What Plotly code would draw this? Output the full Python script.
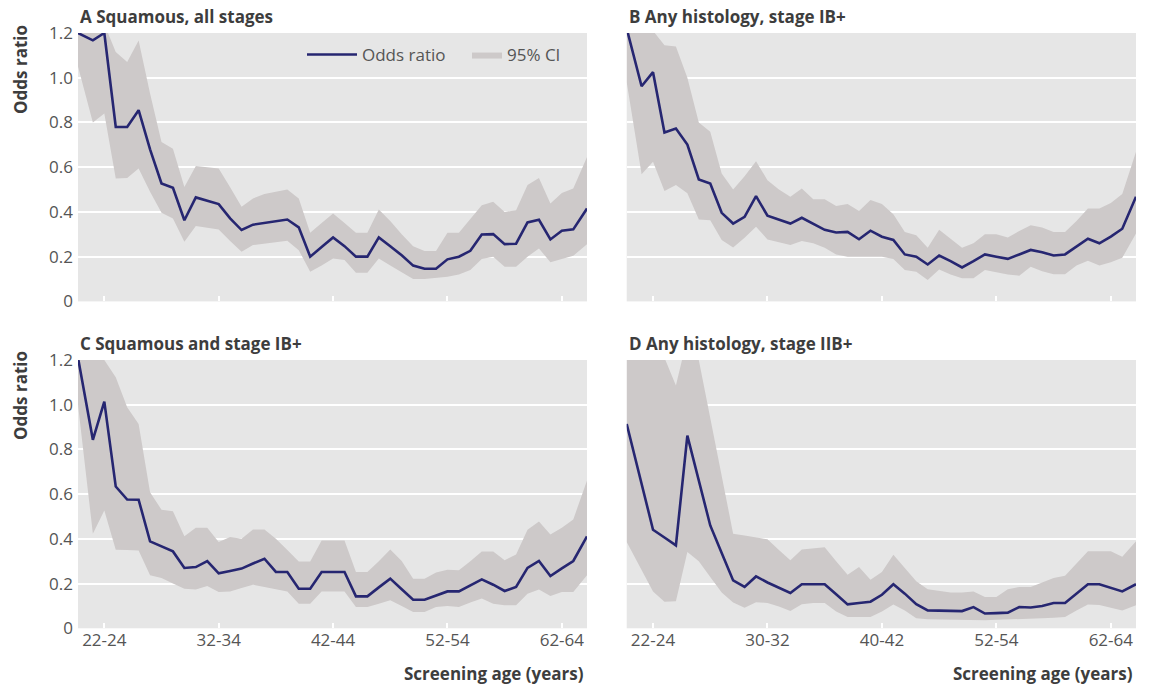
import plotly.graph_objects as go

# Screening age (mid-point of age band, years)
ages = [20.7] + list(range(22, 65)) + [65.2]

# Panel A: Squamous, all stages
a_or = [1.20, 1.167, 1.20, 0.78, 0.78, 0.855, 0.68, 0.527, 0.508, 0.363, 0.465, 0.45, 0.435, 0.371, 0.319,
        0.343, 0.35, 0.359, 0.366, 0.331, 0.20, 0.243, 0.286, 0.247, 0.20, 0.20, 0.286, 0.247, 0.206, 0.16,
        0.146, 0.146, 0.188, 0.20, 0.226, 0.299, 0.301, 0.256, 0.258, 0.353, 0.365, 0.277, 0.316, 0.322, 0.415]
a_hi = [1.40, 1.32, 1.24, 1.115, 1.07, 1.167, 0.93, 0.713, 0.683, 0.512, 0.605, 0.60, 0.594, 0.51, 0.423,
        0.46, 0.48, 0.49, 0.50, 0.46, 0.307, 0.35, 0.393, 0.35, 0.307, 0.307, 0.411, 0.36, 0.30, 0.247,
        0.225, 0.225, 0.307, 0.307, 0.37, 0.43, 0.445, 0.40, 0.408, 0.52, 0.552, 0.438, 0.485, 0.505, 0.646]
a_lo = [1.05, 0.80, 0.84, 0.55, 0.552, 0.594, 0.49, 0.396, 0.371, 0.267, 0.337, 0.33, 0.322, 0.27, 0.222,
        0.252, 0.258, 0.265, 0.271, 0.229, 0.133, 0.16, 0.192, 0.185, 0.128, 0.128, 0.192, 0.16, 0.13, 0.10,
        0.10, 0.104, 0.11, 0.12, 0.14, 0.19, 0.20, 0.155, 0.155, 0.20, 0.237, 0.175, 0.19, 0.204, 0.255]

# Panel B: Any histology, stage IB+
b_or = [1.22, 0.962, 1.025, 0.755, 0.773, 0.701, 0.545, 0.527, 0.396, 0.348, 0.378, 0.471, 0.383, 0.366, 0.348,
        0.374, 0.347, 0.32, 0.308, 0.311, 0.278, 0.316, 0.289, 0.275, 0.21, 0.20, 0.165, 0.205, 0.18, 0.152,
        0.18, 0.21, 0.20, 0.19, 0.21, 0.23, 0.22, 0.205, 0.21, 0.245, 0.28, 0.26, 0.29, 0.325, 0.468]
b_hi = [1.45, 1.35, 1.21, 1.145, 1.14, 1.0, 0.80, 0.758, 0.572, 0.50, 0.56, 0.627, 0.542, 0.50, 0.468,
        0.505, 0.457, 0.457, 0.427, 0.435, 0.404, 0.453, 0.435, 0.39, 0.31, 0.296, 0.24, 0.32, 0.28, 0.24,
        0.26, 0.30, 0.30, 0.286, 0.315, 0.34, 0.33, 0.31, 0.31, 0.36, 0.415, 0.415, 0.44, 0.48, 0.669]
b_lo = [0.98, 0.569, 0.624, 0.494, 0.52, 0.483, 0.366, 0.363, 0.274, 0.241, 0.285, 0.334, 0.277, 0.265, 0.252,
        0.27, 0.26, 0.24, 0.21, 0.20, 0.20, 0.20, 0.20, 0.19, 0.14, 0.133, 0.096, 0.143, 0.12, 0.103,
        0.103, 0.14, 0.13, 0.12, 0.115, 0.155, 0.135, 0.121, 0.121, 0.16, 0.182, 0.16, 0.175, 0.195, 0.304]

# Panel C: Squamous and stage IB+
c_or = [1.21, 0.843, 1.014, 0.634, 0.576, 0.575, 0.389, 0.366, 0.344, 0.270, 0.274, 0.301, 0.246, 0.256, 0.267,
        0.29, 0.311, 0.252, 0.252, 0.177, 0.177, 0.252, 0.252, 0.252, 0.143, 0.143, 0.183, 0.222, 0.175, 0.128,
        0.128, 0.146, 0.165, 0.165, 0.192, 0.219, 0.195, 0.167, 0.185, 0.27, 0.301, 0.234, 0.268, 0.301, 0.411]
c_hi = [1.50, 1.35, 1.20, 1.123, 0.989, 0.914, 0.609, 0.53, 0.524, 0.412, 0.45, 0.45, 0.386, 0.408, 0.40,
        0.442, 0.442, 0.40, 0.35, 0.299, 0.299, 0.393, 0.393, 0.393, 0.252, 0.252, 0.30, 0.353, 0.301, 0.222,
        0.222, 0.25, 0.262, 0.26, 0.30, 0.344, 0.344, 0.304, 0.33, 0.441, 0.478, 0.42, 0.45, 0.487, 0.661]
c_lo = [1.00, 0.423, 0.527, 0.351, 0.35, 0.348, 0.237, 0.225, 0.20, 0.177, 0.174, 0.189, 0.162, 0.165, 0.18,
        0.195, 0.185, 0.175, 0.165, 0.11, 0.11, 0.165, 0.165, 0.165, 0.095, 0.095, 0.11, 0.125, 0.10, 0.073,
        0.073, 0.095, 0.10, 0.095, 0.115, 0.133, 0.11, 0.103, 0.103, 0.155, 0.174, 0.145, 0.162, 0.162, 0.237]

# Panel D: Any histology, stage IIB+
d_or = [0.914, 0.647, 0.441, 0.406, 0.371, 0.862, 0.66, 0.46, 0.337, 0.214, 0.185, 0.232, 0.205, 0.18, 0.158,
        0.197, 0.197, 0.197, 0.152, 0.107, 0.113, 0.119, 0.15, 0.197, 0.155, 0.108, 0.08, 0.079, 0.078, 0.077,
        0.095, 0.066, 0.068, 0.07, 0.095, 0.093, 0.10, 0.113, 0.113, 0.155, 0.197, 0.197, 0.18, 0.165, 0.197]
d_hi = [1.60, 1.50, 1.35, 1.21, 1.086, 1.30, 1.20, 0.94, 0.68, 0.423, 0.415, 0.405, 0.398, 0.35, 0.304,
        0.353, 0.358, 0.363, 0.30, 0.24, 0.274, 0.217, 0.252, 0.329, 0.27, 0.21, 0.175, 0.168, 0.16, 0.16,
        0.165, 0.14, 0.14, 0.175, 0.185, 0.185, 0.205, 0.225, 0.235, 0.29, 0.345, 0.345, 0.345, 0.32, 0.389]
d_lo = [0.386, 0.26, 0.165, 0.119, 0.121, 0.341, 0.30, 0.23, 0.16, 0.115, 0.092, 0.117, 0.113, 0.097, 0.077,
        0.108, 0.113, 0.113, 0.075, 0.051, 0.051, 0.051, 0.075, 0.107, 0.08, 0.045, 0.04, 0.039, 0.038, 0.037,
        0.037, 0.036, 0.038, 0.039, 0.041, 0.043, 0.045, 0.047, 0.05, 0.08, 0.107, 0.104, 0.092, 0.08, 0.103]

titles = ["A Squamous, all stages", "B Any histology, stage IB+",
          "C Squamous and stage IB+", "D Any histology, stage IIB+"]
x_tickvals = [23, 33, 43, 53, 63]
x_ticktext_main = ["22-24", "32-34", "42-44", "52-54", "62-64"]
x_ticktext_d = ["22-24", "30-32", "40-42", "52-54", "62-64"]
y_tickvals = [0, 0.2, 0.4, 0.6, 0.8, 1.0, 1.2]
y_ticktext = ["0", "0.2", "0.4", "0.6", "0.8", "1.0", "1.2"]

LINE = "#262671"
FILL = "#cdc9c9"
BG = "#e6e6e6"
TXT = "#3d3d3d"
TICK = "#555555"
FONT = "Open Sans"

panels = [(a_or, a_lo, a_hi), (b_or, b_lo, b_hi), (c_or, c_lo, c_hi), (d_or, d_lo, d_hi)]

fig = go.Figure()
for i, (orv, lo, hi) in enumerate(panels):
    sfx = "" if i == 0 else str(i + 1)
    xa, ya = "x" + sfx, "y" + sfx
    fig.add_trace(go.Scatter(x=ages, y=lo, mode="lines", line=dict(width=0, color=FILL),
                             xaxis=xa, yaxis=ya, showlegend=False, hoverinfo="skip"))
    fig.add_trace(go.Scatter(x=ages, y=hi, mode="lines", line=dict(width=0, color=FILL),
                             fill="tonexty", fillcolor=FILL, xaxis=xa, yaxis=ya,
                             name="95% CI", showlegend=(i == 0), legend="legend2"))
    fig.add_trace(go.Scatter(x=ages, y=orv, mode="lines", line=dict(width=2.6, color=LINE),
                             xaxis=xa, yaxis=ya, name="Odds ratio", showlegend=(i == 0),
                             legend="legend"))

W, H = 1149, 686
xdom = [[78 / W, 587 / W], [626.7 / W, 1136 / W]]
ydom = [[1 - 301.4 / H, 1 - 33 / H], [1 - 628.3 / H, 1 - 360 / H]]

leg_common = dict(orientation="h", yanchor="middle", xanchor="left",
                  bgcolor="rgba(0,0,0,0)", font=dict(size=17, color=TICK, family=FONT))
layout = dict(width=W, height=H, margin=dict(l=0, r=0, t=0, b=0, autoexpand=False),
              paper_bgcolor="white", plot_bgcolor=BG,
              font=dict(family=FONT, color=TICK, size=17),
              legend=dict(x=302 / W, y=1 - 55 / H, itemwidth=50, **leg_common),
              legend2=dict(x=467 / W, y=1 - 55 / H, itemwidth=30, **leg_common))
for i in range(4):
    sfx = "" if i == 0 else str(i + 1)
    col, row = i % 2, i // 2
    bottom = row == 1
    left = col == 0
    layout["xaxis" + sfx] = dict(domain=xdom[col], anchor="y" + sfx, range=[20.7, 65.2],
                                 tickvals=x_tickvals,
                                 ticktext=x_ticktext_d if i == 3 else x_ticktext_main,
                                 showticklabels=bottom, ticks="inside", ticklen=5, tickwidth=2,
                                 tickcolor="white", showgrid=False, zeroline=False, showline=False,
                                 automargin=False, tickfont=dict(size=17, color=TICK))
    layout["yaxis" + sfx] = dict(domain=ydom[row], anchor="x" + sfx, range=[0, 1.2],
                                 tickvals=y_tickvals, ticktext=y_ticktext, showticklabels=left,
                                 showgrid=True, gridcolor="white", gridwidth=2, zeroline=False,
                                 showline=False, ticks="", ticklabelstandoff=4, automargin=False,
                                 tickfont=dict(size=17, color=TICK))
fig.update_layout(**layout)

ann = []
title_pos = [(78, 16), (627, 16), (78, 343), (627, 343)]
for t, (px, py) in zip(titles, title_pos):
    ann.append(dict(text="<b>" + t + "</b>", x=px / W, y=1 - py / H, xref="paper", yref="paper",
                    xanchor="left", yanchor="middle", showarrow=False,
                    font=dict(family=FONT, size=17, color=TXT)))
for py in (70, 396):
    ann.append(dict(text="<b>Odds ratio</b>", x=20 / W, y=1 - py / H, xref="paper", yref="paper",
                    xanchor="center", yanchor="middle", textangle=-90, showarrow=False,
                    font=dict(family=FONT, size=17, color=TXT)))
for px in (586, 1135):
    ann.append(dict(text="<b>Screening age (years)</b>", x=px / W, y=1 - 673 / H, xref="paper",
                    yref="paper", xanchor="right", yanchor="middle", showarrow=False,
                    font=dict(family=FONT, size=17, color=TXT)))
fig.update_layout(annotations=ann)

fig.write_html("out.html", config={"displayModeBar": False},
               post_script="document.body.style.margin='0';document.body.style.overflow='hidden';")
